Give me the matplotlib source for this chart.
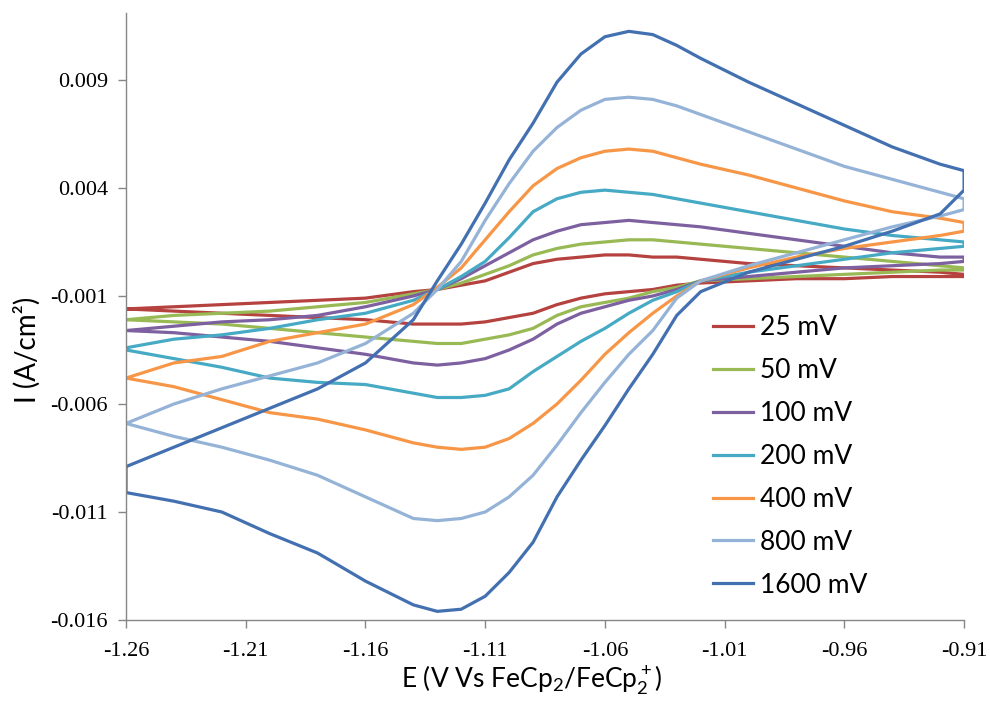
import matplotlib
matplotlib.use('Agg')
import matplotlib.pyplot as plt

plt.rcParams['font.family'] = ['Liberation Serif', 'DejaVu Serif']
plt.rcParams['axes.unicode_minus'] = False
plt.rcParams['mathtext.fontset'] = 'custom'
plt.rcParams['mathtext.rm'] = 'Lato'
plt.rcParams['mathtext.it'] = 'Lato'

# potential grid, forward scan (-1.26 -> -0.91) and reverse scan (-0.91 -> -1.26)
E_fwd = [-1.26, -1.24, -1.22, -1.20, -1.18, -1.16, -1.14, -1.13, -1.12, -1.11, -1.10, -1.09, -1.08,
         -1.07, -1.06, -1.05, -1.04, -1.03, -1.02, -1.00, -0.98, -0.96, -0.94, -0.92, -0.91]
E_rev = E_fwd[::-1]

labels = ['25 mV', '50 mV', '100 mV', '200 mV', '400 mV', '800 mV', '1600 mV']
colors = ['#B5423F', '#98B954', '#7D60A0', '#46AAC5', '#F79646', '#95B3D7', '#4370B0']

# current density (A/cm2)
i25_fwd = [-0.0016, -0.0015, -0.0014, -0.0013, -0.0012, -0.0011, -0.0008, -0.0007, -0.0005, -0.0003, 0.0001, 0.0005, 0.0007,
           0.0008, 0.0009, 0.0009, 0.0008, 0.0008, 0.0007, 0.0005, 0.0004, 0.0003, 0.0002, 0.0001, 0.0000]
i25_rev = [-0.0001, -0.0001, -0.0001, -0.0002, -0.0002, -0.0003, -0.0004, -0.0005, -0.0007, -0.0008, -0.0009, -0.0011, -0.0014,
           -0.0018, -0.0020, -0.0022, -0.0023, -0.0023, -0.0023, -0.0021, -0.0020, -0.0019, -0.0018, -0.0017, -0.0016]

i50_fwd = [-0.0021, -0.0019, -0.0018, -0.0017, -0.0015, -0.0013, -0.0009, -0.0007, -0.0004, 0.0000, 0.0004, 0.0009, 0.0012,
           0.0014, 0.0015, 0.0016, 0.0016, 0.0015, 0.0014, 0.0012, 0.0010, 0.0008, 0.0006, 0.0004, 0.0003]
i50_rev = [0.0002, 0.0002, 0.0001, 0.0000, -0.0001, -0.0002, -0.0003, -0.0006, -0.0008, -0.0011, -0.0013, -0.0015, -0.0019,
           -0.0025, -0.0028, -0.0030, -0.0032, -0.0032, -0.0031, -0.0029, -0.0027, -0.0025, -0.0023, -0.0022, -0.0021]

i100_fwd = [-0.0026, -0.0024, -0.0022, -0.0021, -0.0019, -0.0015, -0.0010, -0.0007, -0.0002, 0.0004, 0.0010, 0.0016, 0.0020,
            0.0023, 0.0024, 0.0025, 0.0024, 0.0023, 0.0022, 0.0019, 0.0016, 0.0013, 0.0010, 0.0008, 0.0008]
i100_rev = [0.0006, 0.0005, 0.0004, 0.0003, 0.0001, -0.0001, -0.0003, -0.0007, -0.0010, -0.0012, -0.0015, -0.0018, -0.0023,
            -0.0030, -0.0035, -0.0039, -0.0041, -0.0042, -0.0041, -0.0037, -0.0034, -0.0031, -0.0029, -0.0027, -0.0026]

i200_fwd = [-0.0034, -0.0030, -0.0028, -0.0025, -0.0021, -0.0018, -0.0012, -0.0007, -0.0001, 0.0006, 0.0017, 0.0029, 0.0035,
            0.0038, 0.0039, 0.0038, 0.0037, 0.0035, 0.0033, 0.0029, 0.0025, 0.0021, 0.0018, 0.0016, 0.0015]
i200_rev = [0.0013, 0.0012, 0.0010, 0.0007, 0.0004, 0.0001, -0.0003, -0.0008, -0.0012, -0.0018, -0.0025, -0.0031, -0.0038,
            -0.0045, -0.0053, -0.0056, -0.0057, -0.0057, -0.0055, -0.0051, -0.0050, -0.0048, -0.0043, -0.0039, -0.0035]

i400_fwd = [-0.0048, -0.0041, -0.0038, -0.0031, -0.0027, -0.0023, -0.0014, -0.0006, 0.0003, 0.0016, 0.0029, 0.0041, 0.0049,
            0.0054, 0.0057, 0.0058, 0.0057, 0.0054, 0.0051, 0.0046, 0.0040, 0.0034, 0.0029, 0.0026, 0.0024]
i400_rev = [0.0020, 0.0018, 0.0015, 0.0012, 0.0008, 0.0003, -0.0003, -0.0010, -0.0018, -0.0027, -0.0037, -0.0049, -0.0060,
            -0.0069, -0.0076, -0.0080, -0.0081, -0.0080, -0.0078, -0.0072, -0.0067, -0.0064, -0.0058, -0.0052, -0.0048]

i800_fwd = [-0.0069, -0.0060, -0.0053, -0.0047, -0.0041, -0.0032, -0.0018, -0.0007, 0.0006, 0.0025, 0.0042, 0.0057, 0.0068,
            0.0076, 0.0081, 0.0082, 0.0081, 0.0078, 0.0074, 0.0066, 0.0058, 0.0050, 0.0044, 0.0038, 0.0035]
i800_rev = [0.0030, 0.0027, 0.0022, 0.0016, 0.0010, 0.0004, -0.0003, -0.0011, -0.0026, -0.0037, -0.0050, -0.0064, -0.0079,
            -0.0093, -0.0103, -0.0110, -0.0113, -0.0114, -0.0113, -0.0103, -0.0093, -0.0086, -0.0080, -0.0075, -0.0069]

i1600_fwd = [-0.0089, -0.0080, -0.0071, -0.0062, -0.0053, -0.0041, -0.0021, -0.0003, 0.0014, 0.0033, 0.0053, 0.0070, 0.0089,
             0.0102, 0.0110, 0.01125, 0.0111, 0.0106, 0.0100, 0.0089, 0.0079, 0.0069, 0.0059, 0.0051, 0.0048]
i1600_rev = [0.0039, 0.0028, 0.0020, 0.0013, 0.0007, 0.0001, -0.0008, -0.0019, -0.0037, -0.0053, -0.0070, -0.0086, -0.0103,
             -0.0124, -0.0138, -0.0149, -0.0155, -0.0156, -0.0153, -0.0142, -0.0129, -0.0120, -0.0110, -0.0105, -0.0101]

fwd_all = [i25_fwd, i50_fwd, i100_fwd, i200_fwd, i400_fwd, i800_fwd, i1600_fwd]
rev_all = [i25_rev, i50_rev, i100_rev, i200_rev, i400_rev, i800_rev, i1600_rev]

x_ticks = [-1.26, -1.21, -1.16, -1.11, -1.06, -1.01, -0.96, -0.91]
y_ticks = [-0.016, -0.011, -0.006, -0.001, 0.004, 0.009]

fig = plt.figure(figsize=(9.9, 7.02), dpi=100)
ax = fig.add_axes([0.1273, 0.1168, 0.8465, 0.8647])

for lab, fwd, rev, col in zip(labels, fwd_all, rev_all, colors):
    # one closed loop: forward scan then reverse scan, back to the start
    ax.plot(E_fwd + E_rev + E_fwd[:1], fwd + rev + fwd[:1], color=col, lw=2.3, label=lab,
            solid_joinstyle='round')

ax.set_xlim(-1.26, -0.91)
ax.set_ylim(-0.016, 0.0121)
ax.set_xticks(x_ticks)
ax.set_yticks(y_ticks)
ax.set_xticklabels(['%.2f' % v for v in x_ticks])
ax.set_yticklabels(['%.3f' % v for v in y_ticks])

for s in ['top', 'right']:
    ax.spines[s].set_visible(False)
for s in ['left', 'bottom']:
    ax.spines[s].set_color('#868686')
    ax.spines[s].set_linewidth(1.0)
ax.tick_params(axis='both', direction='out', length=6, width=1, color='#868686', labelsize=16)
ax.tick_params(axis='y', pad=7)
ax.tick_params(axis='x', pad=10)

fig.text(27 / 990, 1 - 350 / 702, 'I (A/cm²)', rotation=90, ha='center', va='center',
         family='Lato', fontsize=20)
fig.text(532 / 990, 1 - 680 / 702, r'E (V Vs FeCp$_2$/FeCp$_2^+$)', ha='center', va='center',
         family='Lato', fontsize=19)

ax.legend(loc='upper left', bbox_to_anchor=(713 / 990, 1 - 315 / 702), bbox_transform=fig.transFigure,
          frameon=False, prop={'family': 'Lato', 'size': 19}, handlelength=1.5, handletextpad=0.28,
          labelspacing=0.68, borderpad=0, borderaxespad=0)

fig.savefig('out.png', dpi=100)
